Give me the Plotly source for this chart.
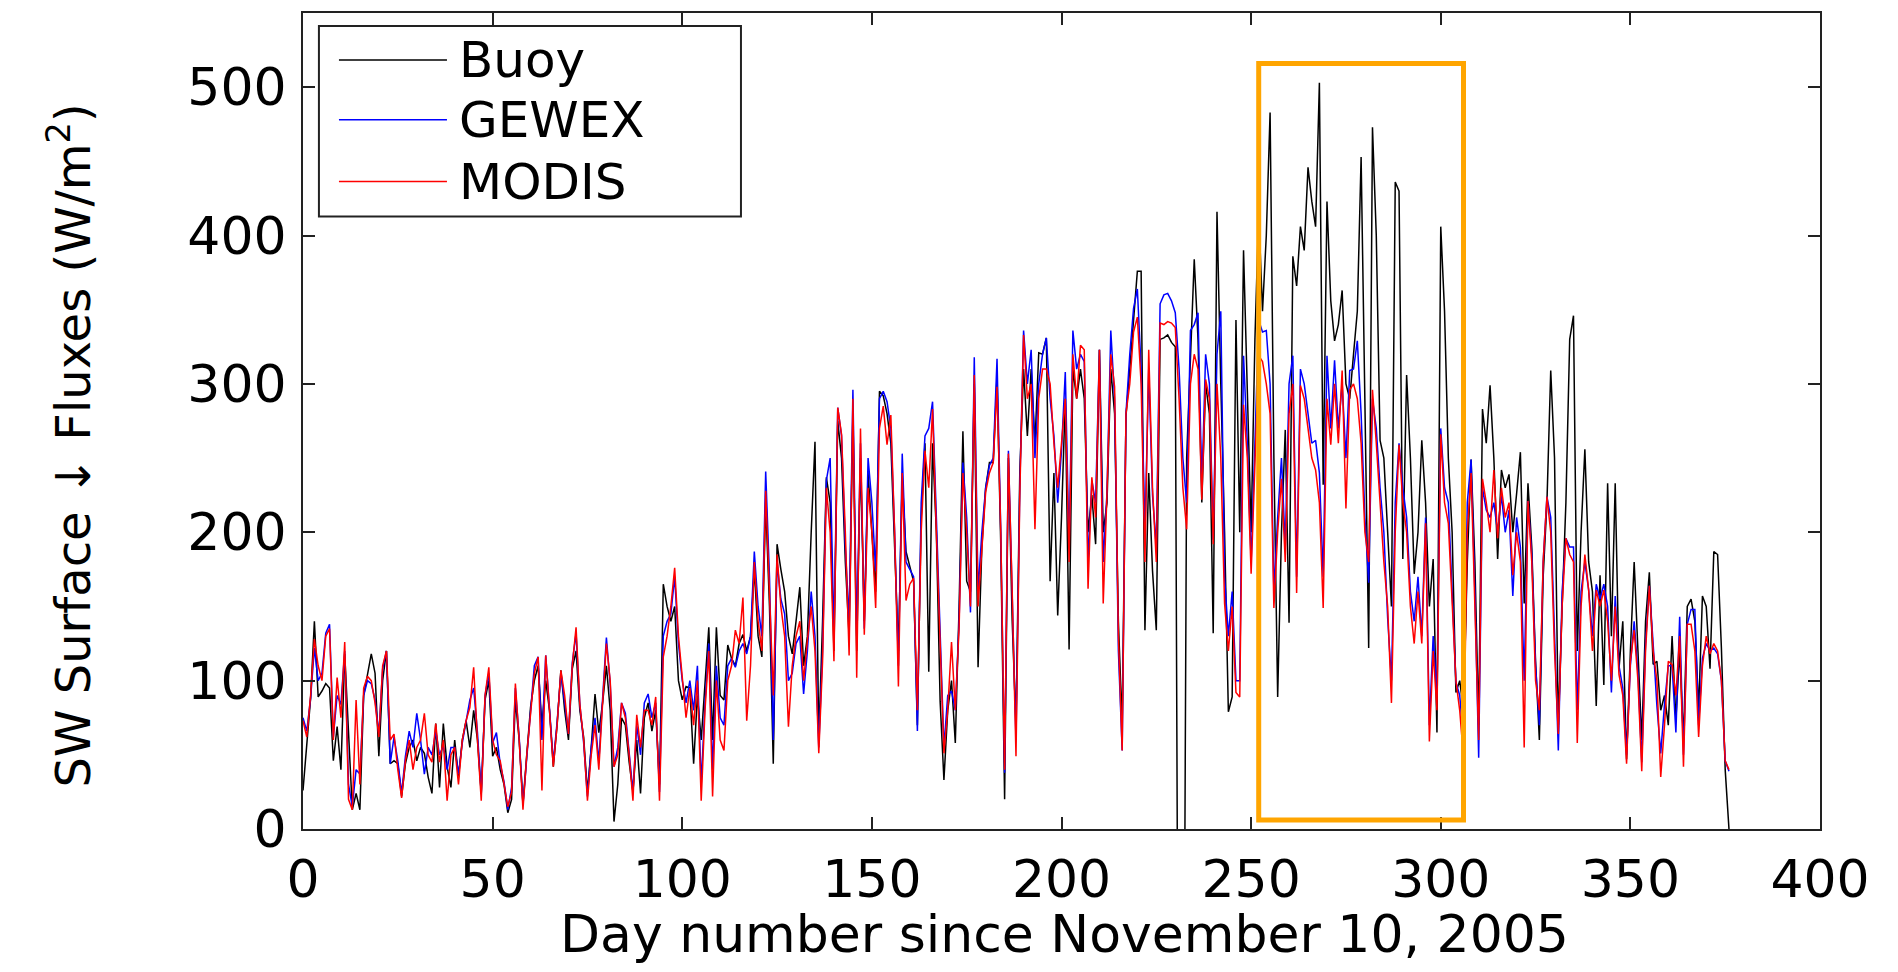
import plotly.graph_objects as go

# ---------------- data ----------------
days = list(range(377))

modis = [
    73, 62, 90, 128, 110, 100, 130, 135, 60, 102,
    75, 126, 20, 13, 87, 30, 95, 103, 100, 85,
    62, 110, 120, 60, 64, 40, 21, 46, 60, 40,
    55, 60, 78, 50, 45, 71, 45, 60, 19, 50,
    55, 30, 60, 73, 82, 109, 60, 19, 90, 109,
    60, 50, 46, 30, 15, 25, 98, 60, 13, 50,
    78, 105, 116, 26, 117, 80, 42, 70, 107, 90,
    64, 110, 136, 84, 60, 19, 50, 70, 40, 85,
    125, 100, 42, 50, 85, 75, 50, 19, 77, 55,
    80, 80, 70, 89, 19, 116, 130, 150, 176, 130,
    100, 75, 95, 70, 100, 19, 80, 120, 22, 100,
    60, 53, 100, 110, 134, 125, 156, 73, 110, 180,
    140, 120, 228, 160, 90, 185, 150, 130, 69, 110,
    130, 140, 100, 127, 150, 120, 51, 113, 230, 200,
    113, 284, 266, 200, 117, 290, 102, 270, 131, 230,
    200, 149, 270, 285, 259, 279, 200, 96, 240, 154,
    165, 169, 80, 200, 255, 230, 283, 200, 120, 51,
    80, 126, 80, 136, 240, 200, 150, 306, 150, 192,
    227, 240, 247, 298, 199, 40, 253, 160, 49, 225,
    333, 290, 300, 202, 290, 310, 310, 300, 260, 230,
    258, 290, 180, 320, 290, 326, 323, 162, 237, 210,
    323, 152, 227, 320, 298, 130, 53, 280, 300, 335,
    345, 300, 180, 323, 230, 180, 341, 340, 342, 341,
    338, 290, 230, 202, 300, 320, 310, 222, 303, 290,
    192, 300, 250, 152, 120, 150, 92, 89, 286, 250,
    172, 250, 319, 315, 300, 280, 149, 200, 236, 180,
    280, 300, 159, 299, 290, 270, 250, 242, 220, 149,
    290, 259, 300, 260, 309, 216, 296, 300, 290, 260,
    200, 180, 296, 260, 216, 180, 150, 85, 200, 259,
    220, 200, 150, 125, 160, 125, 206, 59, 120, 80,
    266, 220, 206, 150, 100, 80, 48, 200, 240, 150,
    60, 236, 220, 200, 242, 196, 230, 210, 220, 171,
    200, 180, 55, 221, 180, 100, 80, 180, 224, 200,
    120, 64, 150, 196, 185, 180, 58, 150, 185, 161,
    120, 161, 150, 161, 140, 100, 150, 104, 90, 44,
    113, 134, 100, 39, 120, 164, 120, 100, 35, 70,
    113, 111, 90, 130, 42, 138, 138, 120, 62, 110,
    130, 118, 125, 120, 100, 46, 40,
]

gewex = [
    75, 66, 88, 122, 100, 105, 132, 138, 62, 90,
    84, 120, 30, 15, 40, 37, 90, 100, 98, 87,
    64, 108, 120, 44, 62, 46, 24, 49, 66, 55,
    78, 60, 37, 55, 50, 66, 50, 56, 40, 55,
    55, 37, 58, 73, 87, 95, 65, 24, 90, 105,
    58, 65, 44, 32, 13, 28, 95, 62, 16, 48,
    80, 110, 116, 60, 117, 82, 45, 72, 105, 85,
    64, 112, 132, 84, 58, 22, 55, 75, 45, 88,
    129, 98, 42, 55, 85, 78, 52, 25, 70, 50,
    85, 91, 75, 85, 25, 130, 140, 145, 170, 125,
    100, 85, 100, 80, 110, 30, 85, 125, 40, 110,
    75, 70, 110, 115, 109, 120, 125, 118, 130, 187,
    150, 130, 241, 170, 60, 180, 155, 145, 100, 105,
    125, 130, 91, 120, 160, 130, 55, 120, 235, 250,
    130, 284, 265, 190, 140, 296, 130, 260, 135, 250,
    220, 174, 290, 295, 288, 270, 200, 110, 253, 180,
    175, 170, 66, 220, 265, 270, 288, 210, 130, 55,
    90, 93, 80, 140, 247, 210, 146, 318, 160, 200,
    230, 245, 250, 317, 199, 38, 255, 150, 60, 230,
    336, 300, 323, 250, 300, 320, 331, 290, 265, 220,
    255, 308, 190, 336, 310, 320, 315, 180, 235, 220,
    323, 180, 227, 336, 290, 120, 53, 280, 320, 351,
    364, 310, 200, 310, 225, 190, 354, 360, 361, 356,
    348, 310, 250, 220, 336, 340, 348, 230, 320, 300,
    195, 320, 349, 170, 130, 160, 100, 100, 319, 260,
    180, 260, 343, 335, 336, 300, 160, 210, 250, 190,
    300, 319, 170, 310, 300, 280, 260, 262, 240, 170,
    319, 270, 316, 270, 300, 250, 309, 310, 329, 280,
    210, 166, 290, 270, 230, 200, 142, 100, 220, 260,
    230, 210, 160, 140, 170, 130, 210, 70, 130, 90,
    270, 230, 220, 160, 99, 90, 60, 220, 249, 160,
    48, 230, 215, 210, 220, 200, 225, 200, 215, 157,
    210, 190, 100, 221, 185, 110, 70, 180, 224, 210,
    130, 53, 160, 196, 190, 190, 80, 160, 180, 161,
    130, 165, 155, 165, 150, 92, 157, 110, 95, 50,
    110, 140, 105, 45, 125, 164, 125, 83, 51, 84,
    110, 110, 65, 143, 50, 138, 148, 148, 70, 115,
    125, 120, 122, 118, 100, 46, 39,
]

buoy = [
    26, 60, 88, 140, 89, 93, 98, 95, 46, 69,
    40, 118, 60, 13, 24, 13, 90, 105, 118, 105,
    49, 100, 120, 44, 46, 44, 22, 44, 55, 60,
    46, 55, 51, 35, 24, 71, 28, 71, 42, 28,
    60, 35, 60, 73, 55, 80, 60, 24, 87, 100,
    49, 55, 40, 30, 11, 20, 87, 60, 17, 50,
    82, 100, 110, 70, 100, 80, 42, 70, 107, 80,
    60, 108, 120, 80, 62, 25, 55, 91, 65, 85,
    110, 80, 5, 30, 75, 70, 45, 25, 60, 24,
    75, 85, 66, 80, 30, 165, 150, 140, 150, 100,
    87, 96, 95, 44, 90, 60, 100, 136, 60, 136,
    90, 87, 124, 115, 110, 125, 131, 120, 130, 175,
    130, 116, 220, 150, 44, 192, 175, 160, 130, 118,
    140, 163, 110, 130, 200, 261, 60, 140, 237, 220,
    120, 275, 250, 180, 130, 280, 120, 250, 140, 240,
    200, 160, 295, 292, 280, 260, 190, 120, 237, 187,
    177, 167, 70, 210, 260, 106, 260, 200, 86, 33,
    80, 100, 58, 150, 268, 167, 160, 300, 109, 190,
    230, 247, 247, 305, 190, 20, 250, 140, 70, 240,
    310, 265, 310, 260, 321, 320, 331, 167, 240, 144,
    210, 290, 121, 310, 290, 310, 290, 200, 225, 192,
    323, 200, 220, 310, 280, 140, 70, 278, 310, 345,
    376, 376, 134, 240, 174, 134, 330, 331, 333, 328,
    325, -300, -300, 250, 320, 384, 330, 220, 300, 280,
    132, 416, 300, 200, 79, 89, 343, 200, 390, 300,
    200, 330, 416, 349, 400, 483, 250, 89, 200, 269,
    139, 386, 366, 406, 390, 446, 423, 406, 503, 232,
    423, 356, 329, 340, 363, 300, 290, 320, 349, 453,
    300, 122, 473, 400, 262, 250, 200, 150, 436, 430,
    182, 306, 250, 172, 200, 262, 220, 150, 182, 65,
    406, 349, 250, 200, 92, 100, 80, 180, 249, 180,
    70, 283, 260, 299, 250, 182, 242, 230, 239, 200,
    226, 254, 152, 233, 190, 113, 60, 170, 220, 309,
    250, 70, 150, 220, 330, 346, 120, 200, 256, 180,
    160, 83, 171, 97, 233, 130, 233, 108, 140, 47,
    120, 180, 120, 60, 140, 173, 111, 113, 80, 90,
    70, 130, 74, 120, 60, 150, 155, 140, 80, 157,
    150, 108, 187, 185, 122, 40, 0,
]

x_ticks = [0, 50, 100, 150, 200, 250, 300, 350, 400]
y_ticks = [0, 100, 200, 300, 400, 500]
series_names = ["Buoy", "GEWEX", "MODIS"]
highlight_days = [252, 306]
highlight_flux = [6, 516]

assert len(modis) == len(gewex) == len(buoy) == len(days)

# ---------------- figure ----------------
FONT = "DejaVu Sans"
colors = {"Buoy": "#000000", "GEWEX": "#0000FF", "MODIS": "#FF0000"}
values = {"Buoy": buoy, "GEWEX": gewex, "MODIS": modis}

fig = go.Figure()
for name in series_names:
    fig.add_trace(go.Scatter(
        x=days, y=values[name], mode="lines", name=name,
        line=dict(color=colors[name], width=1.5),
        showlegend=False, cliponaxis=True,
    ))

# highlight box
fig.add_shape(type="rect", xref="x", yref="y",
              x0=highlight_days[0], x1=highlight_days[1],
              y0=highlight_flux[0], y1=highlight_flux[1],
              line=dict(color="#FFA500", width=5), fillcolor="rgba(0,0,0,0)")

# legend box (drawn by hand to match the long line samples)
fig.add_shape(type="rect", xref="paper", yref="paper",
              x0=0.0105, x1=0.2887, y0=0.7506, y1=0.984,
              line=dict(color="#222222", width=2), fillcolor="white", layer="above")
row_y = [0.9425, 0.8692, 0.7934]
for name, yy in zip(series_names, row_y):
    fig.add_shape(type="line", xref="paper", yref="paper",
                  x0=0.0237, x1=0.0949, y0=yy, y1=yy,
                  line=dict(color=colors[name], width=1.5), layer="above")
    fig.add_annotation(xref="paper", yref="paper", x=0.1015, y=yy,
                       xanchor="left", yanchor="middle", showarrow=False,
                       text=name, font=dict(family=FONT, size=50, color="black"))

# axis titles
fig.add_annotation(xref="paper", yref="paper", x=-0.1536, y=0.47,
                   xanchor="center", yanchor="middle", showarrow=False, textangle=-90,
                   text="SW Surface \u2193 Fluxes (W/m<sup>2</sup>)",
                   font=dict(family=FONT, size=48, color="black"))
fig.add_annotation(xref="paper", yref="paper", x=0.502, y=-0.168,
                   xanchor="center", yanchor="bottom", showarrow=False,
                   text="Day number since November 10, 2005",
                   font=dict(family=FONT, size=52, color="black"))

axis_common = dict(
    showgrid=False, zeroline=False, showline=True, linewidth=2, linecolor="#222222",
    mirror="allticks", ticks="inside", ticklen=12, tickwidth=2, tickcolor="#222222",
    tickfont=dict(family=FONT, size=52, color="black"),
)
fig.update_xaxes(range=[0, 400], tickvals=x_ticks, ticklabelstandoff=4, **axis_common)
fig.update_yaxes(range=[0, 550], tickvals=y_ticks, ticklabelstandoff=4, **axis_common)

fig.update_layout(
    width=1898, height=972,
    margin=dict(l=303, r=78, t=11, b=143),
    paper_bgcolor="white", plot_bgcolor="white",
    showlegend=False,
)

fig.write_html("out.html")
